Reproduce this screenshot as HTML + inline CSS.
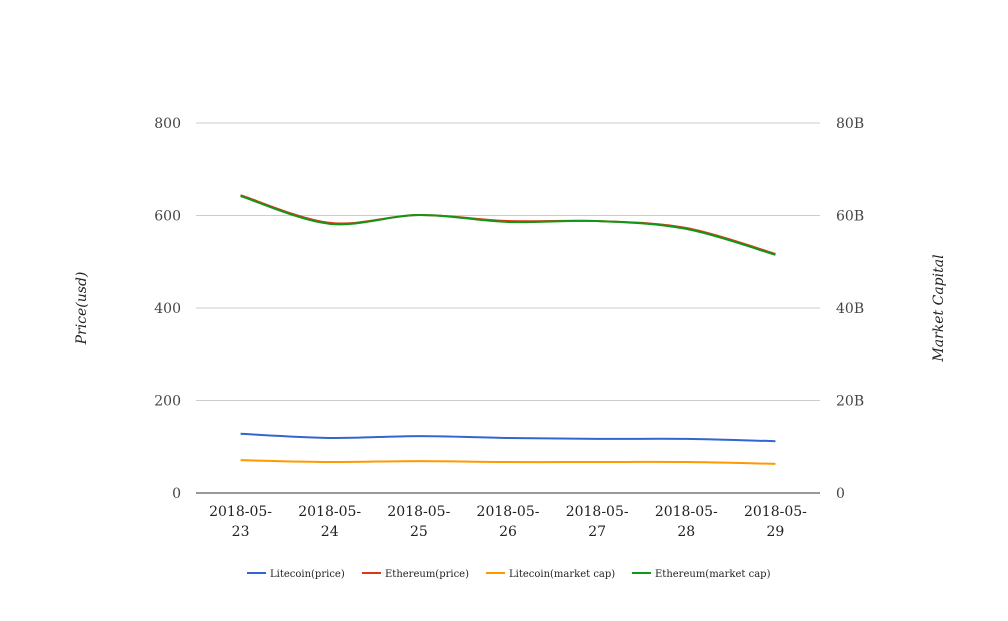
<!DOCTYPE html>
<html><head><meta charset="utf-8"><style>
body{margin:0;background:#fff;}
svg{font-family:"DejaVu Serif","Liberation Serif",serif;}
</style></head><body>
<svg id="c" width="1008" height="616"></svg>
<script>
const categories=["2018-05-23","2018-05-24","2018-05-25","2018-05-26","2018-05-27","2018-05-28","2018-05-29"];
const litecoinPrice=[128,119,123,119,117,117,112];
const ethereumPrice=[644,584,601,588,588,573,517];
const litecoinCap=[7.1,6.7,6.9,6.7,6.7,6.7,6.3];
const ethereumCap=[64.2,58.2,60.1,58.6,58.8,57.1,51.5];
const leftTicks=[0,200,400,600,800];
const rightTicks=["0","20B","40B","60B","80B"];
const seriesNames=["Litecoin(price)","Ethereum(price)","Litecoin(market cap)","Ethereum(market cap)"];
const colors=["#3366cc","#dc3912","#ff9900","#109618"];
const NS="http://www.w3.org/2000/svg";
const svg=document.getElementById('c');
const x0=196,x1=820,yb=493,yt=123;
const xs=i=>x0+(x1-x0)/categories.length*(i+0.5);
const yL=v=>yb-(yb-yt)*v/800;
const yR=v=>yb-(yb-yt)*v/80;
function el(t,a,txt){const e=document.createElementNS(NS,t);for(const k in a)e.setAttribute(k,a[k]);if(txt!==undefined)e.textContent=txt;svg.appendChild(e);return e;}
leftTicks.forEach((v,i)=>{
 const g=el('line',{x1:x0,x2:x1,y1:yL(v),y2:yL(v),stroke:v===0?'#333':'#ccc','stroke-width':1});
 
 
 const t=el('text',{x:181,y:yL(v)+5,'text-anchor':'end','font-size':14,fill:'#444'},v);
 
 
 const r=el('text',{x:836,y:yL(v)+5,'text-anchor':'start','font-size':14,fill:'#444'},rightTicks[i]);
 
 
});
categories.forEach((c,i)=>{
 const p=c.split('-');
 const t=el('text',{x:xs(i),y:516,'text-anchor':'middle','font-size':14,fill:'#222'},p[0]+'-'+p[1]+'-');
 
 
 const t2=el('text',{x:xs(i),y:536,'text-anchor':'middle','font-size':14,fill:'#222'},p[2]);
 
 
});
let a=el('text',{x:86,y:308,'text-anchor':'middle','font-size':14,'font-style':'italic',fill:'#222',transform:'rotate(-90 86 308)'},'Price(usd)');


a=el('text',{x:943,y:308,'text-anchor':'middle','font-size':14,'font-style':'italic',fill:'#222',transform:'rotate(-90 943 308)'},'Market Capital');


function path(pts){let d='M'+pts[0][0]+','+pts[0][1];
 for(let i=0;i<pts.length-1;i++){const p0=pts[Math.max(0,i-1)],p1=pts[i],p2=pts[i+1],p3=pts[Math.min(pts.length-1,i+2)];
 const c1x=p1[0]+(p2[0]-p0[0])/6,c1y=p1[1]+(p2[1]-p0[1])/6,c2x=p2[0]-(p3[0]-p1[0])/6,c2y=p2[1]-(p3[1]-p1[1])/6;
 d+=` C${c1x},${c1y} ${c2x},${c2y} ${p2[0]},${p2[1]}`;}return d;}
const series=[[litecoinPrice,yL],[ethereumPrice,yL],[litecoinCap,yR],[ethereumCap,yR]];
series.forEach(([vals,f],k)=>{
 const p=el('path',{d:path(vals.map((v,i)=>[xs(i),f(v)])),fill:'none',stroke:colors[k],'stroke-width':2});
 
 
});
const lx=[247,362,486,632];
seriesNames.forEach((n,k)=>{
 const l=el('line',{x1:lx[k],x2:lx[k]+19,y1:573,y2:573,stroke:colors[k],'stroke-width':2});
 
 
 const t=el('text',{x:lx[k]+23,y:577,'font-size':10,fill:'#222'},n);
 
 
});
</script>
</body></html>
